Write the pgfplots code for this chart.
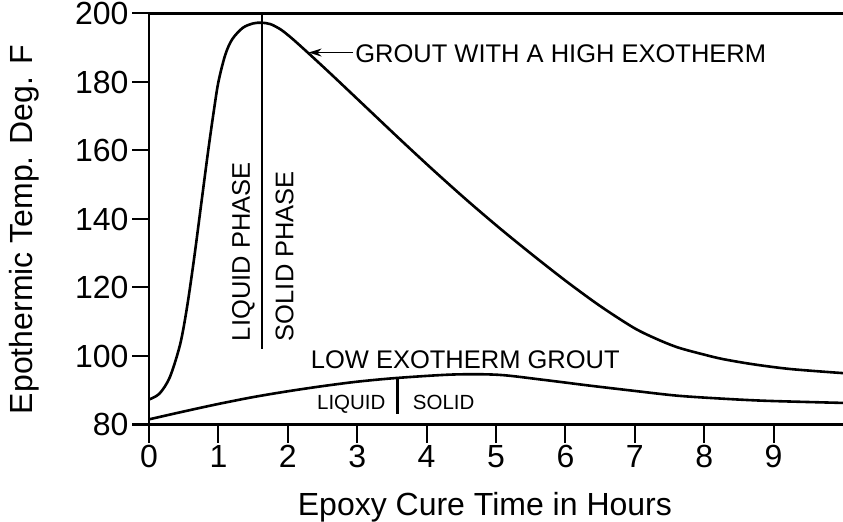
\documentclass[border=0pt]{standalone}
\usepackage{fontspec}
\setmainfont{Liberation Sans}
\usepackage{pgfplots}
\pgfplotsset{compat=1.18}
\usetikzlibrary{arrows.meta}
\newcommand{\fbig}{\fontsize{32bp}{38bp}\selectfont}
\newcommand{\fmid}{\fontsize{25.5bp}{30bp}\selectfont}
\newcommand{\fsml}{\fontsize{20.5bp}{24bp}\selectfont}
\begin{document}
\begin{tikzpicture}
\begin{axis}[
  name=ax,
  scale only axis, width=697.47bp, height=411bp,
  at={(0,0)}, anchor=south west,
  xmin=0, xmax=10.05, ymin=80, ymax=200,
  axis line style={line width=2.2bp},
  tick pos=left,
  xtick={0,1,...,9}, ytick={80,100,...,200},
  tick align=outside, major tick length=17bp,
  tick style={line width=2bp, black},
  ticklabel style={font=\fbig},
  /pgf/number format/assume math mode=true,
  xlabel={Epoxy Cure Time in Hours},
  ylabel={Epothermic Temp. Deg. F},
  xlabel style={font=\fbig, at={(axis description cs:0.4816,0)}, anchor=base, yshift=-90.5bp},
  ylabel style={font=\fbig, at={(axis description cs:0,0.474)}, anchor=base, rotate=0, yshift=116bp},
  clip=false,
]
% high exotherm grout
\addplot[black, line width=2.6bp, smooth, tension=0.5] coordinates {
(0,87.3) (0.15,89.0) (0.3,93.8) (0.45,103.5) (0.55,114.5) (0.65,128.5)
(0.75,144.0) (0.85,159.5) (0.93,171.0) (1.0,180.0) (1.1,188.0) (1.2,192.5)
(1.35,195.8) (1.5,197.1) (1.62,197.3) (1.75,196.9) (1.9,195.3) (2.05,192.9)
(2.2,190.2) (2.4,186.5) (2.66,181.6) (3.14,172.4) (3.62,163.2) (4.10,154.2)
(4.58,145.5) (5.06,137.2) (5.54,129.3) (6.02,121.7) (6.50,114.6) (6.98,108.3)
(7.3,105.1) (7.62,102.5) (8.0,100.4) (8.27,99.1) (8.7,97.6) (9.24,96.2) (10,95.0)};
% low exotherm grout
\addplot[black, line width=2.6bp, smooth] coordinates {
(0,81.5) (0.5,83.8) (1.0,86.0) (1.5,88.0) (2.0,89.7) (2.5,91.2) (3.0,92.5)
(3.58,93.6) (4.39,94.6) (5.04,94.5) (5.7,93.0) (6.33,91.4) (7.0,89.8)
(7.62,88.4) (8.3,87.5) (8.92,86.9) (10,86.3)};
% phase boundaries
\addplot[black, line width=2.2bp] coordinates {(1.63,200) (1.63,101.9)};
\addplot[black, line width=2.2bp] coordinates {(3.58,93.6) (3.58,83.2)};
% annotations
\draw[black, line width=1.5bp, -{Stealth[length=13bp,width=8bp]}] (axis cs:2.94,188.6) -- (axis cs:2.30,188.6);
\node[anchor=base west, inner sep=0pt, font=\fmid] at (axis cs:2.97,185.6) {GROUT WITH A HIGH EXOTHERM};
\node[anchor=base west, inner sep=0pt, font=\fmid] at (axis cs:2.33,96.27) {LOW EXOTHERM GROUT};
\node[anchor=base west, inner sep=0pt, font=\fsml] at (axis cs:2.42,84.4) {LIQUID};
\node[anchor=base west, inner sep=0pt, font=\fsml] at (axis cs:3.80,84.4) {SOLID};
\node[anchor=base west, inner sep=0pt, font=\fmid, rotate=90] at (axis cs:1.455,104.3) {LIQUID PHASE};
\node[anchor=base west, inner sep=0pt, font=\fmid, rotate=90] at (axis cs:2.08,104.3) {SOLID PHASE};
\end{axis}
% outside tick marks along the axis frame
\foreach \k in {0,...,9}
  \draw[black, line width=2bp] ([xshift=\k*69.4bp]ax.south west) -- ++(0bp,-18bp);
\foreach \j in {0,...,6}
  \draw[black, line width=2bp] ([yshift=\j*68.5bp]ax.south west) -- ++(-17bp,0bp);
\pgfresetboundingbox
\path ([shift={(-149bp,-97.5bp)}]ax.south west) rectangle ++(843bp,522bp);
\end{tikzpicture}
\end{document}
